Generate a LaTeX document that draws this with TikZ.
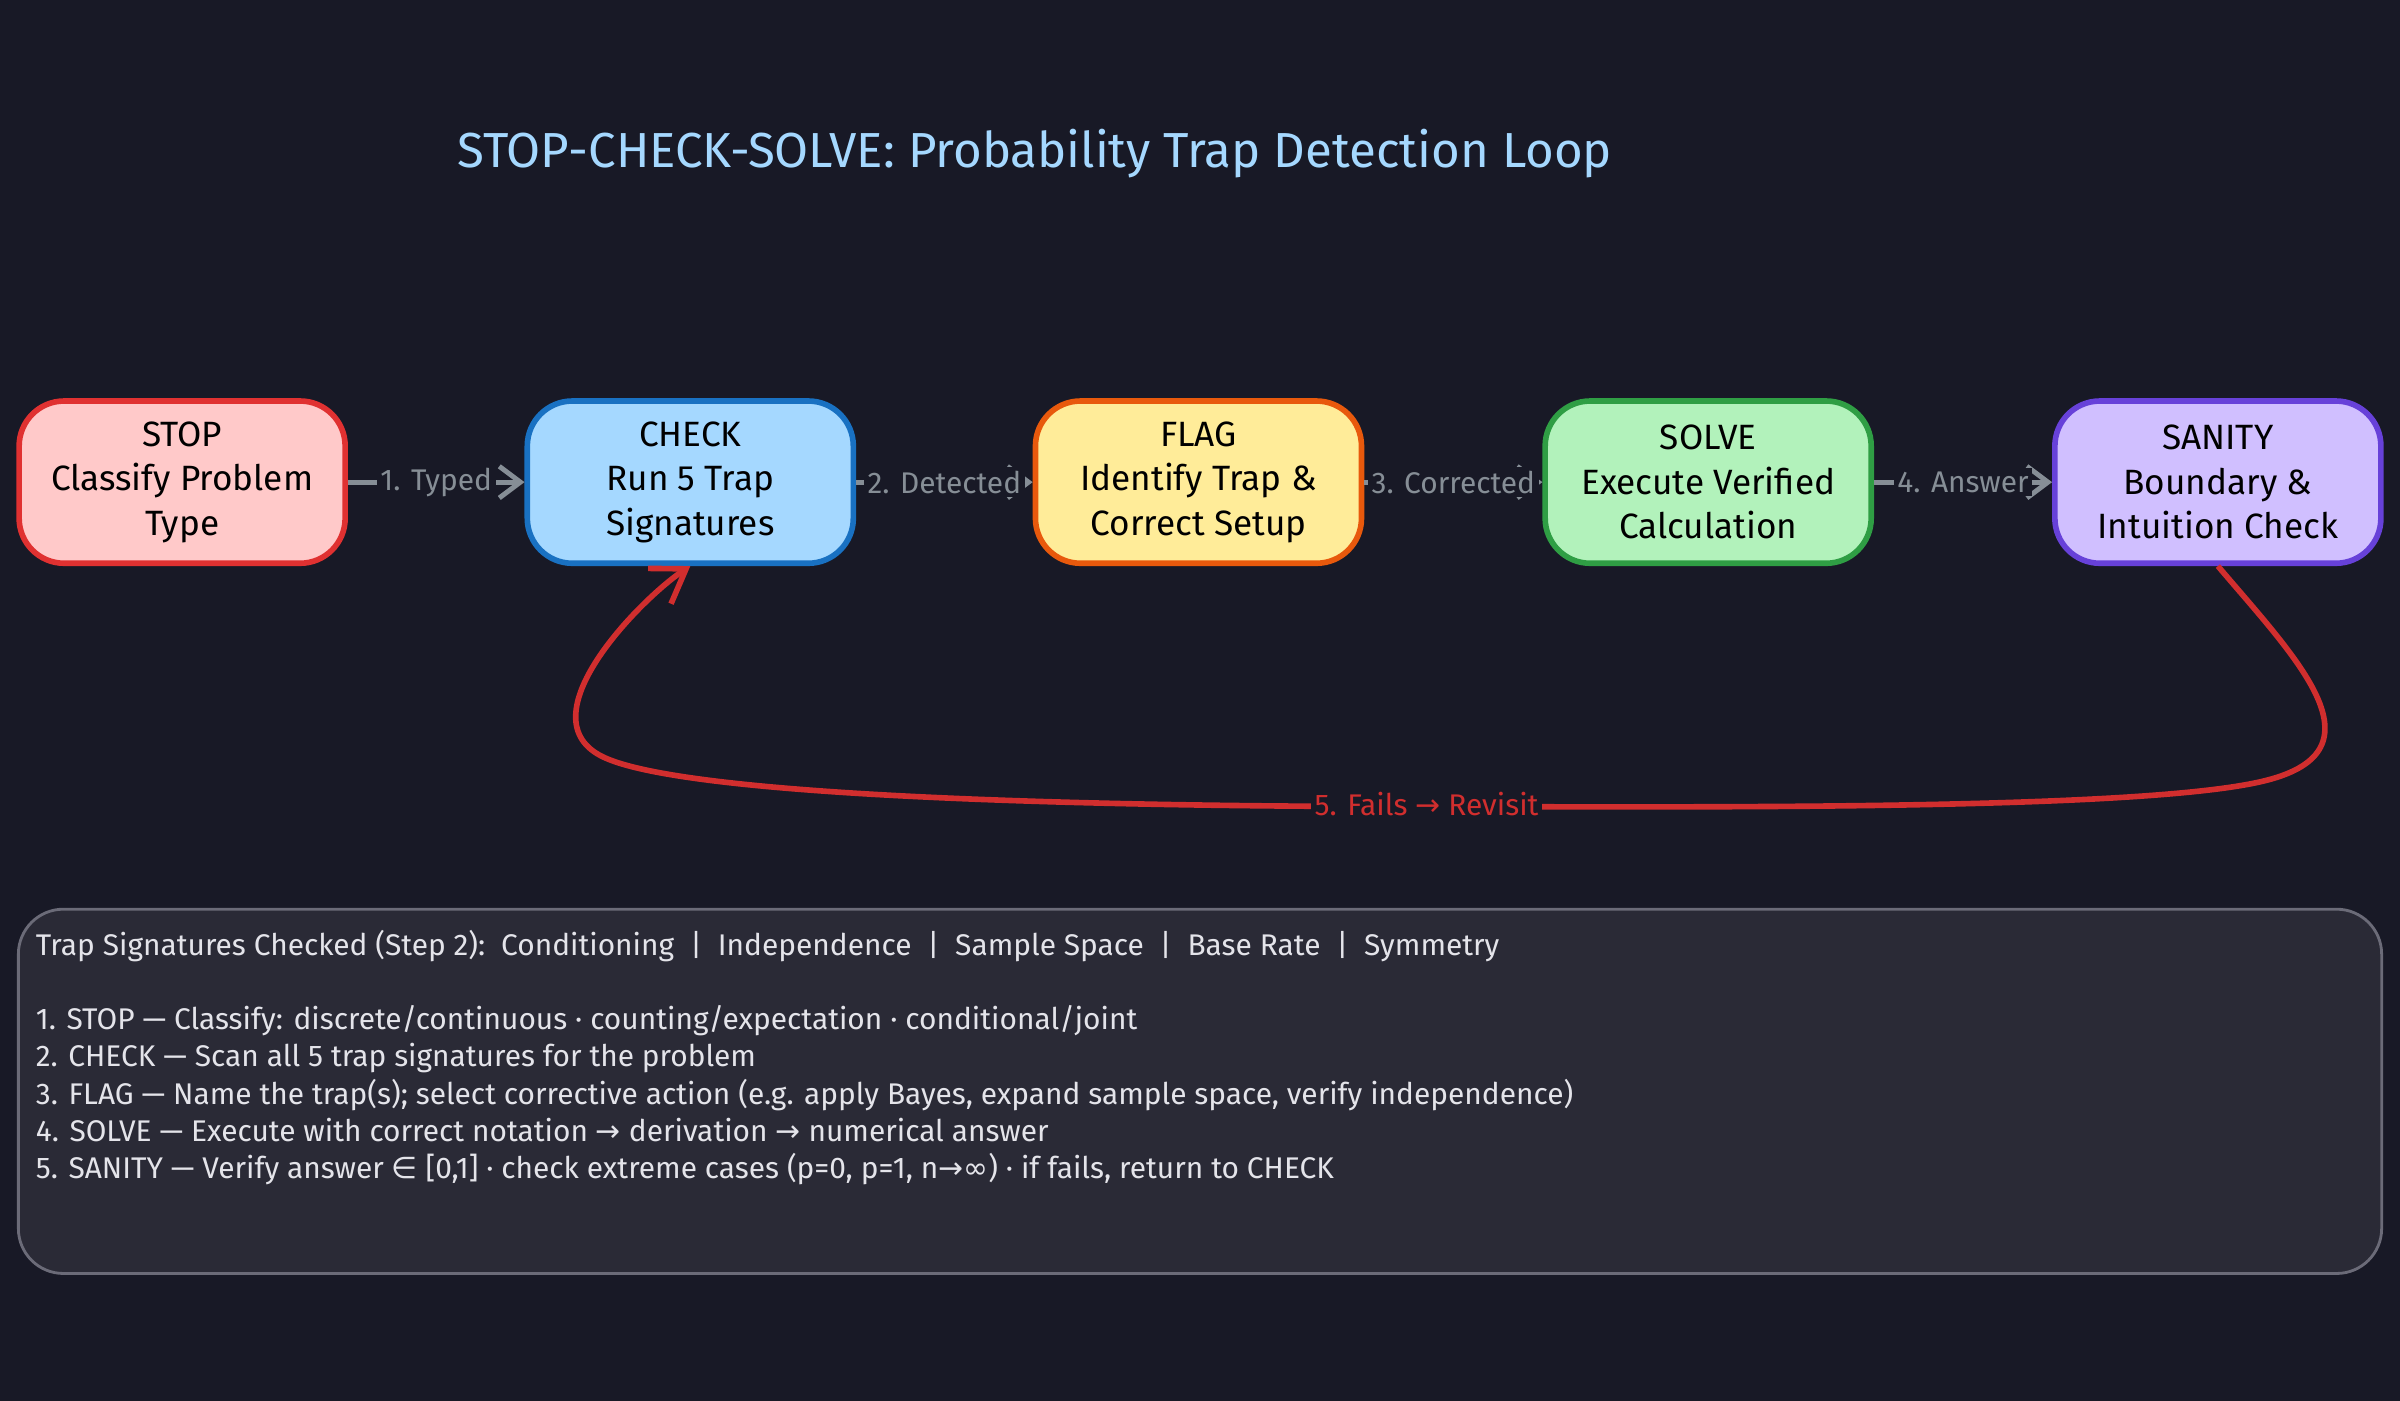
\documentclass[tikz,border=0pt]{standalone}
\usepackage{fontspec}
\setmainfont{Fira Sans}
\newfontfamily\dv{DejaVu Sans}
\usetikzlibrary{arrows.meta}
\definecolor{bg}{HTML}{181926}
\definecolor{ttl}{HTML}{A5D8FF}
\definecolor{gr}{HTML}{868E96}
\definecolor{rd}{HTML}{D12E2E}
\definecolor{pnl}{HTML}{2A2A36}
\definecolor{pnlb}{HTML}{6B6B78}
\definecolor{txt}{HTML}{E4E4EA}
\begin{document}
\begin{tikzpicture}[x=0.015306cm,y=-0.015306cm,
 box/.style={draw, line width=1.6pt, rounded corners=0.45cm, minimum width=213*0.015306cm, minimum height=106*0.015306cm, align=center, text=black, font=\fontsize{10}{12.6}\selectfont, inner sep=0pt},
 flow/.style={draw=gr, line width=1.4pt, -{Straight Barb[length=6pt,width=9pt]}},
 lbl/.style={text=gr, font=\fontsize{8.5}{10}\selectfont, fill=bg, inner sep=1pt}]
\fill[bg] (0,0) rectangle (1568,915);
\useasboundingbox (0,0) rectangle (1568,915);
\node[text=ttl, font=\fontsize{14}{16}\selectfont] (title) at (676,100) {STOP-CHECK-SOLVE: Probability Trap Detection Loop};
\node[box, fill={rgb,255:red,255;green,201;blue,201}, draw={rgb,255:red,224;green,49;blue,49}] (stop) at (119,315) {STOP\\Classify Problem\\Type};
\node[box, fill={rgb,255:red,165;green,216;blue,255}, draw={rgb,255:red,25;green,113;blue,194}] (check) at (451,315) {CHECK\\Run 5 Trap\\Signatures};
\node[box, fill={rgb,255:red,255;green,236;blue,153}, draw={rgb,255:red,232;green,89;blue,12}] (flag) at (783,315) {FLAG\\Identify Trap \&\\Correct Setup};
\node[box, fill={rgb,255:red,178;green,242;blue,187}, draw={rgb,255:red,47;green,158;blue,68}] (solve) at (1116,315) {SOLVE\\Execute Verified\\Calculation};
\node[box, fill={rgb,255:red,208;green,191;blue,255}, draw={rgb,255:red,103;green,65;blue,217}] (sanity) at (1449,315) {SANITY\\Boundary \&\\Intuition Check};
\draw[flow] (stop) -- node[lbl]{1. Typed} (check);
\draw[flow] (check) -- node[lbl]{2. Detected} (flag);
\draw[flow] (flag) -- node[lbl]{3. Corrected} (solve);
\draw[flow] (solve) -- node[lbl]{4. Answer} (sanity);
\draw[rd, line width=1.6pt, -{Straight Barb[length=9pt,width=12pt]}] (sanity.south) .. controls (1500,430) and (1560,490) .. (1480,510) .. controls (1400,530) and (1100,527) .. (932,527) coordinate (mid) .. controls (700,527) and (450,520) .. (395,495) .. controls (340,470) and (420,390) .. (check.south);
\node[text=rd, font=\fontsize{8.5}{10}\selectfont, fill=bg, inner sep=1pt] (fl) at (932,525) {5. Fails {\dv →} Revisit};
\draw[pnlb, fill=pnl, line width=0.8pt, rounded corners=0.45cm] (12,594) rectangle (1556,832);
\node[anchor=north west, text=txt, align=left, font=\fontsize{8.5}{10.6}\selectfont, inner sep=0pt] (notes) at (23,607) {%
Trap Signatures Checked (Step 2):\ \ Conditioning\ \ |\ \ Independence\ \ |\ \ Sample Space\ \ |\ \ Base Rate\ \ |\ \ Symmetry\\[10.6pt]
1. STOP — Classify: discrete/continuous · counting/expectation · conditional/joint\\
2. CHECK — Scan all 5 trap signatures for the problem\\
3. FLAG — Name the trap(s); select corrective action (e.g. apply Bayes, expand sample space, verify independence)\\
4. SOLVE — Execute with correct notation {\dv →} derivation {\dv →} numerical answer\\
5. SANITY — Verify answer {\dv ∈} [0,1] · check extreme cases (p=0, p=1, n{\dv →∞}) · if fails, return to CHECK};
\end{tikzpicture}
\end{document}
